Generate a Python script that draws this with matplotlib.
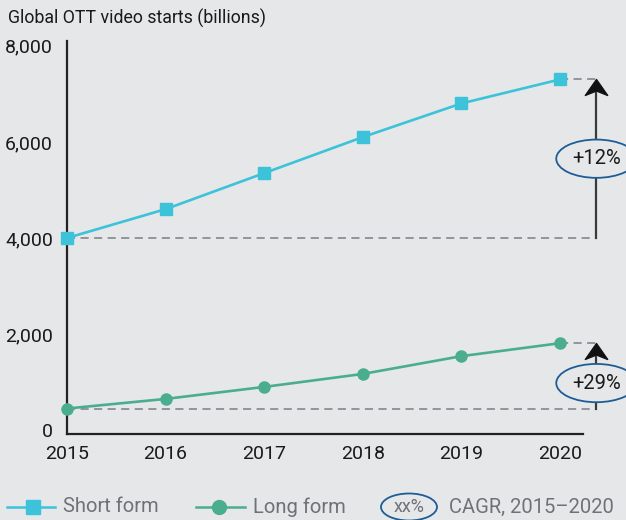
import matplotlib.pyplot as plt
from matplotlib.lines import Line2D
from matplotlib.patches import Ellipse
from matplotlib.path import Path

years = [2015, 2016, 2017, 2018, 2019, 2020]
short_form = [4000, 4600, 5350, 6100, 6800, 7300]
long_form = [450, 650, 900, 1170, 1540, 1810]
cagr_labels = ['+12%', '+29%']
yticks = [0, 2000, 4000, 6000, 8000]

bg = '#e6e7e9'
cyan = '#3cc3d9'
green = '#4aae8e'
ring = '#1d5d96'
dash_col = '#8b8e92'
txt = '#1a1a1a'
leg_txt = '#6e7278'

plt.rcParams['font.family'] = ['Roboto', 'DejaVu Sans']

# notched arrowhead, tip at origin
head = Path([(0, 0), (-0.7, -1), (0, -0.72), (0.7, -1), (0, 0)],
            [Path.MOVETO, Path.LINETO, Path.LINETO, Path.LINETO, Path.CLOSEPOLY])

fig = plt.figure(figsize=(6.26, 5.2), dpi=100, facecolor=bg)
ax = fig.add_axes([67/626, 86/520, 559/626, 393/520])
ax.set_facecolor(bg)

ax.plot(years, short_form, color=cyan, lw=1.9, marker='s', ms=8.5, clip_on=False, zorder=4)
ax.plot(years, long_form, color=green, lw=1.9, marker='o', ms=8, clip_on=False, zorder=4)

xa = 2020.37
for series, lab, ylab in [(short_form, cagr_labels[0], 5650), (long_form, cagr_labels[1], 980)]:
    ax.plot([years[0], xa], [series[0], series[0]],
            color=dash_col, lw=1.3, ls=(0, (4.5, 3)), zorder=2)
    ax.plot([years[-1], xa], [series[-1], series[-1]],
            color=dash_col, lw=1.3, ls=(0, (4.5, 3)), zorder=2)
    ax.plot([xa, xa], [series[0], series[-1] - 150], color='#3a3a3a', lw=1.6, zorder=3)
    ax.plot([xa], [series[-1]], marker=head, ms=23, color='#111111', lw=0, zorder=3,
            clip_on=False)
    ax.text(xa, ylab, lab, ha='center', va='center', fontsize=14.5, color=txt, zorder=5,
            bbox=dict(boxstyle='ellipse,pad=0.2', fc=bg, ec=ring, lw=1.3))

ax.set_xlim(2015, 2020.67)
ax.set_ylim(-80, 8100)
ax.set_xticks(years)
ax.set_yticks(yticks)
ax.set_yticklabels([f'{v:,}' for v in yticks])
ax.tick_params(length=0, labelsize=14, colors=txt, pad=8)
ax.tick_params(axis='y', pad=10)
for s in ['top', 'right']:
    ax.spines[s].set_visible(False)
ax.spines['bottom'].set_bounds(2015, 2020.23)
for s in ['left', 'bottom']:
    ax.spines[s].set_linewidth(1.6)
    ax.spines[s].set_color('#222222')

fig.text(8/626, 1 - 18/520, 'Global OTT video starts (billions)', fontsize=12.8,
         color=txt, va='center', ha='left')

# legend
ly = 1 - 507/520
fig.add_artist(Line2D([7/626, 55/626], [ly, ly], color=cyan, lw=1.8,
                      transform=fig.transFigure))
fig.add_artist(Line2D([33/626], [ly], color=cyan, marker='s', ms=10,
                      lw=0, transform=fig.transFigure))
fig.text(63/626, ly, 'Short form', fontsize=14.5, color=leg_txt, va='center')
fig.add_artist(Line2D([196/626, 245/626], [ly, ly], color=green, lw=1.8,
                      transform=fig.transFigure))
fig.add_artist(Line2D([219/626], [ly], color=green, marker='o', ms=10,
                      lw=0, transform=fig.transFigure))
fig.text(253/626, ly, 'Long form', fontsize=14.5, color=leg_txt, va='center')
fig.add_artist(Ellipse((409/626, ly), 56/626, 27/520, fc='none', ec=ring, lw=1.3,
                       transform=fig.transFigure))
fig.text(409/626, ly, 'xx%', fontsize=13, color=leg_txt, va='center', ha='center')
fig.text(449/626, ly, 'CAGR, 2015\u20132020', fontsize=14.5, color=leg_txt, va='center')

fig.savefig('out.png', dpi=100, facecolor=bg)
